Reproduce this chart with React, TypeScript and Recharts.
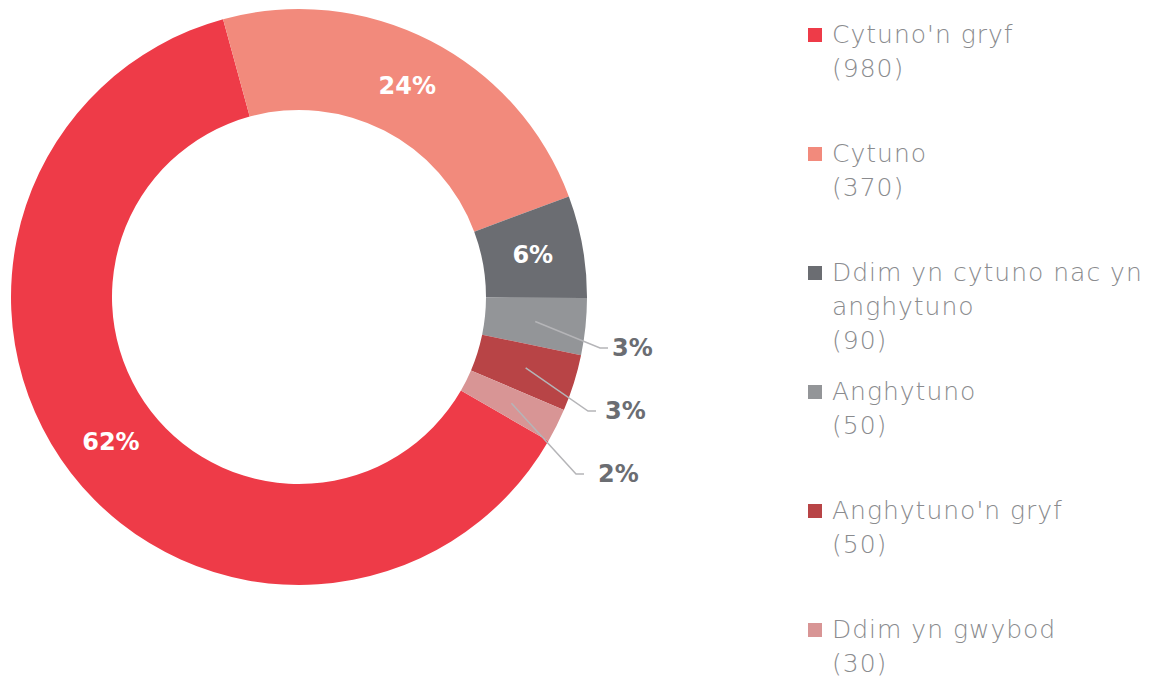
import { Cell, Legend, Pie, PieChart } from "recharts";

const categories = [
  "Cytuno'n gryf",
  "Cytuno",
  "Ddim yn cytuno nac yn anghytuno",
  "Anghytuno",
  "Anghytuno'n gryf",
  "Ddim yn gwybod",
];
const counts = [980, 370, 90, 50, 50, 30];
const colors = ["#ee3b48", "#f28a7c", "#6b6d72", "#939598", "#b84446", "#d89595"];
const legendLines = [
  ["Cytuno'n gryf", "(980)"],
  ["Cytuno", "(370)"],
  ["Ddim yn cytuno nac yn", "anghytuno", "(90)"],
  ["Anghytuno", "(50)"],
  ["Anghytuno'n gryf", "(50)"],
  ["Ddim yn gwybod", "(30)"],
];

const data = categories.map((name, i) => ({ name, value: counts[i] }));

const RAD = Math.PI / 180;
const labelFont = "'DejaVu Sans', sans-serif";

function renderLabel(props: any) {
  const { cx, cy, midAngle, innerRadius, outerRadius, percent, index } = props;
  const mid = (innerRadius + outerRadius) / 2;
  const sx = cx + mid * Math.cos(-midAngle * RAD);
  const sy = cy + mid * Math.sin(-midAngle * RAD);
  const text = `${Math.round(percent * 100)}%`;
  if (percent >= 0.05) {
    return (
      <text x={sx} y={sy} fill="#ffffff" textAnchor="middle" dominantBaseline="central"
        fontFamily={labelFont} fontWeight="bold" fontSize={24}>
        {text}
      </text>
    );
  }
  // small slices: leader line out to the right
  const k = index - 3;
  const ey = cy + 51 + 63 * k;
  const ex = cx + outerRadius + 13 - 12 * k;
  const hx = ex + 8;
  return (
    <g>
      <polyline points={`${sx},${sy} ${ex},${ey} ${hx},${ey}`} fill="none" stroke="#b5b5b8" strokeWidth={1.5} />
      <text x={hx + 4 + 5 * k} y={ey} fill="#6b6d72" textAnchor="start" dominantBaseline="central"
        fontFamily={labelFont} fontWeight="bold" fontSize={24}>
        {text}
      </text>
    </g>
  );
}

function LegendBox() {
  return (
    <div style={{ position: "relative", width: 352, height: 679 }}>
      {legendLines.map((lines, i) => (
        <div key={i} style={{ position: "absolute", left: 8, top: 18 + 119 * i }}>
          <div style={{ position: "absolute", left: 0, top: 10, width: 14, height: 14, background: colors[i] }} />
          <div style={{ marginLeft: 24, fontFamily: "'DejaVu Sans', sans-serif", fontWeight: 200, fontSize: 25, letterSpacing: 1, lineHeight: "34px", color: "#8a8b8e", whiteSpace: "nowrap" }}>
            {lines.map((l, j) => <div key={j}>{l}</div>)}
          </div>
        </div>
      ))}
    </div>
  );
}

export default function App() {
  return (
    <div style={{ position: "absolute", left: 0, top: 0, width: 1152, height: 679, background: "#ffffff" }}>
      <PieChart width={1152} height={679}>
        <Pie
          data={data}
          dataKey="value"
          nameKey="name"
          cx={294}
          cy={292}
          innerRadius={187}
          outerRadius={288}
          startAngle={-30}
          endAngle={-390}
          stroke="none"
          label={renderLabel}
          labelLine={false}
          isAnimationActive={false}
        >
          {data.map((_, i) => <Cell key={i} fill={colors[i]} />)}
        </Pie>
        <Legend content={<LegendBox />} wrapperStyle={{ position: "absolute", left: 800, top: 0, width: 352 }} />
      </PieChart>
    </div>
  );
}
